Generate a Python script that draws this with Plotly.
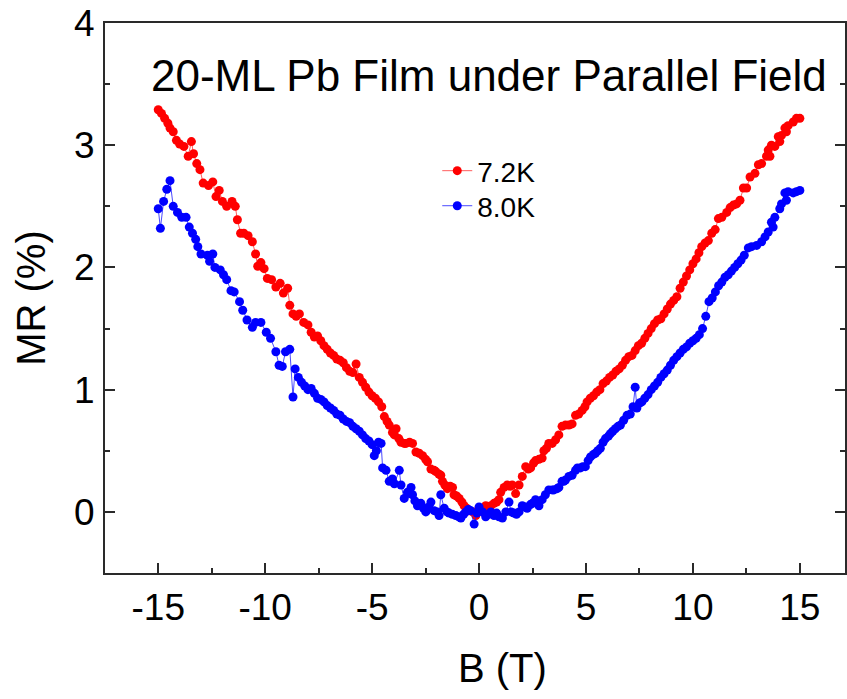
import plotly.graph_objects as go

# ---- data: 7.2K ----
b_72 = [-15.0, -14.85, -14.7, -14.55, -14.45, -14.3, -14.15, -14.0, -13.8, -13.6, -13.45, -13.35, -13.2, -13.05,
        -12.9, -12.65, -12.45, -12.3, -12.15, -12.0, -11.8, -11.55, -11.4, -11.3, -11.15, -11.0, -10.8, -10.6,
        -10.45, -10.35, -10.2, -10.05, -9.9, -9.7, -9.5, -9.3, -9.15, -8.95, -8.85, -8.7, -8.55, -8.4, -8.2,
        -8.0, -7.85, -7.7, -7.55, -7.4, -7.25, -7.1, -6.95, -6.8, -6.65, -6.5, -6.35, -6.2, -6.05, -5.9, -5.75,
        -5.6, -5.45, -5.3, -5.15, -5.0, -4.85, -4.7, -4.55, -4.43, -4.3, -4.2, -4.05, -3.96, -3.88, -3.75,
        -3.65, -3.5, -3.42, -3.25, -3.11, -2.95, -2.8, -2.64, -2.5, -2.41, -2.25, -2.1, -2.02, -1.88, -1.79,
        -1.71, -1.6, -1.48, -1.35, -1.24, -1.17, -1.05, -0.93, -0.8, -0.7, -0.58, -0.47, -0.3, -0.15, 0.0,
        0.15, 0.31, 0.45, 0.55, 0.7, 0.82, 0.93, 1.01, 1.17, 1.32, 1.45, 1.55, 1.71, 1.87, 2.02, 2.18, 2.3,
        2.41, 2.55, 2.64, 2.8, 2.95, 3.03, 3.15, 3.26, 3.42, 3.58, 3.73, 3.88, 4.04, 4.2, 4.35, 4.51, 4.66,
        4.82, 4.95, 5.05, 5.2, 5.35, 5.5, 5.65, 5.8, 5.95, 6.1, 6.25, 6.4, 6.55, 6.7, 6.85, 7.0, 7.15, 7.3,
        7.45, 7.6, 7.75, 7.9, 8.05, 8.2, 8.35, 8.5, 8.65, 8.8, 8.95, 9.1, 9.25, 9.4, 9.55, 9.7, 9.85, 10.0,
        10.15, 10.28, 10.41, 10.57, 10.72, 10.88, 11.04, 11.19, 11.35, 11.58, 11.74, 11.89, 12.04, 12.2,
        12.36, 12.51, 12.67, 12.9, 13.06, 13.21, 13.44, 13.52, 13.6, 13.67, 13.83, 13.99, 14.06, 14.14, 14.3,
        14.37, 14.45, 14.69, 14.84, 15.0]
mr_72 = [3.29, 3.26, 3.22, 3.18, 3.14, 3.11, 3.04, 3.01, 2.99, 2.91, 3.03, 2.93, 2.85, 2.80,
         2.69, 2.67, 2.70, 2.58, 2.63, 2.54, 2.50, 2.54, 2.50, 2.39, 2.28, 2.28, 2.26, 2.21,
         2.11, 2.01, 2.04, 1.99, 1.91, 1.90, 1.84, 1.87, 1.79, 1.83, 1.69, 1.62, 1.60, 1.62, 1.55,
         1.53, 1.47, 1.43, 1.44, 1.40, 1.36, 1.33, 1.30, 1.28, 1.25, 1.24, 1.22, 1.18, 1.15, 1.14, 1.21,
         1.10, 1.06, 1.02, 0.98, 0.95, 0.93, 0.90, 0.86, 0.78, 0.74, 0.71, 0.65, 0.63, 0.68, 0.60,
         0.57, 0.56, 0.56, 0.57, 0.56, 0.49, 0.48, 0.46, 0.43, 0.41, 0.35, 0.34, 0.33, 0.31, 0.30,
         0.25, 0.22, 0.19, 0.21, 0.20, 0.14, 0.13, 0.11, 0.08, 0.05, 0.03, 0.01, 0.00, -0.03, 0.03,
         0.02, 0.05, 0.04, 0.05, 0.07, 0.08, 0.10, 0.16, 0.20, 0.22, 0.21, 0.22, 0.15, 0.22, 0.29, 0.37, 0.35,
         0.36, 0.40, 0.42, 0.43, 0.44, 0.50, 0.52, 0.56, 0.56, 0.59, 0.63, 0.70, 0.71, 0.71, 0.72, 0.79, 0.80,
         0.83, 0.86, 0.90, 0.93, 0.95, 0.98, 1.00, 1.05, 1.07, 1.10, 1.12, 1.15, 1.17, 1.20, 1.24, 1.27, 1.28, 1.32,
         1.36, 1.38, 1.42, 1.46, 1.50, 1.54, 1.57, 1.58, 1.62, 1.66, 1.70, 1.73, 1.76, 1.83, 1.88, 1.93, 1.98, 2.03,
         2.07, 2.12, 2.17, 2.20, 2.22, 2.28, 2.31, 2.40, 2.41, 2.45, 2.49, 2.51, 2.52, 2.55,
         2.65, 2.65, 2.74, 2.77, 2.84, 2.85, 2.91, 2.96, 2.91, 3.00, 2.99, 3.07, 3.03, 3.08, 3.14,
         3.11, 3.16, 3.19, 3.22, 3.22]

# ---- data: 8.0K ----
b_80 = [-15.0, -14.9, -14.75, -14.6, -14.45, -14.3, -14.1, -13.9, -13.7, -13.55, -13.4, -13.25, -13.15, -13.0,
        -12.7, -12.6, -12.45, -12.35, -12.1, -11.95, -11.8, -11.6, -11.45, -11.2, -11.05, -10.85, -10.6, -10.45,
        -10.2, -9.95, -9.75, -9.5, -9.35, -9.2, -9.05, -8.85, -8.7, -8.6, -8.45, -8.3, -8.15, -8.0, -7.85, -7.7,
        -7.55, -7.4, -7.25, -7.1, -6.95, -6.8, -6.65, -6.5, -6.35, -6.2, -6.05, -5.9, -5.75, -5.6, -5.45, -5.3,
        -5.15, -5.0, -4.9, -4.8, -4.7, -4.58, -4.51, -4.35, -4.2, -4.05, -3.96, -3.73, -3.65, -3.5, -3.35, -3.26,
        -3.18, -3.11, -3.0, -2.88, -2.72, -2.6, -2.49, -2.35, -2.25, -2.1, -1.95, -1.87, -1.79, -1.63, -1.5, -1.4,
        -1.25, -1.09, -0.95, -0.85, -0.72, -0.62, -0.5, -0.39, -0.23, -0.1, 0.0, 0.16, 0.31, 0.45, 0.55, 0.7,
        0.82, 0.93, 1.09, 1.25, 1.4, 1.5, 1.63, 1.75, 1.87, 2.02, 2.15, 2.25, 2.4, 2.49, 2.64, 2.8, 2.95, 3.1,
        3.26, 3.42, 3.5, 3.65, 3.73, 3.88, 3.96, 4.04, 4.2, 4.35, 4.51, 4.6, 4.74, 4.85, 4.97, 5.1, 5.21, 5.35,
        5.44, 5.55, 5.67, 5.8, 5.91, 6.05, 6.14, 6.25, 6.37, 6.5, 6.61, 6.76, 6.92, 7.07, 7.2, 7.3, 7.38, 7.5,
        7.61, 7.75, 7.9, 8.05, 8.2, 8.35, 8.5, 8.65, 8.8, 8.95, 9.1, 9.25, 9.4, 9.55, 9.7, 9.85, 10.0, 10.15,
        10.3, 10.45, 10.6, 10.75, 10.9, 11.05, 11.2, 11.35, 11.5, 11.65, 11.8, 11.95, 12.1, 12.25, 12.4, 12.59,
        12.74, 12.98, 13.21, 13.37, 13.52, 13.67, 13.75, 13.83, 14.06, 14.14, 14.3, 14.37, 14.45, 14.69, 14.84,
        15.0]
mr_80 = [2.48, 2.32, 2.54, 2.64, 2.71, 2.50, 2.45, 2.41, 2.41, 2.33, 2.28, 2.23, 2.17, 2.11,
         2.10, 2.05, 2.11, 2.00, 1.98, 1.94, 1.90, 1.81, 1.80, 1.72, 1.65, 1.57, 1.51, 1.55,
         1.55, 1.47, 1.42, 1.31, 1.20, 1.19, 1.31, 1.33, 0.94, 1.17, 1.10, 1.06, 1.03, 1.00, 1.01, 0.97,
         0.93, 0.92, 0.90, 0.87, 0.85, 0.83, 0.80, 0.79, 0.76, 0.74, 0.73, 0.70, 0.68, 0.66, 0.63, 0.60,
         0.58, 0.55, 0.46, 0.50, 0.57, 0.56, 0.36, 0.34, 0.25, 0.27, 0.23, 0.34, 0.22, 0.11, 0.16, 0.15,
         0.20, 0.14, 0.09, 0.05, 0.07, 0.03, 0.00, 0.04, 0.08, 0.01, 0.00, -0.03, 0.14, 0.03, 0.00, -0.01,
         -0.02, -0.03, -0.04, -0.05, -0.02, 0.00, 0.02, 0.01, -0.10, -0.01, 0.04, 0.00, -0.04, -0.02, 0.00, -0.03,
         -0.01, -0.04, -0.05, 0.00, 0.08, 0.00, -0.01, -0.02, 0.00, 0.05, 0.04, 0.03, 0.06, 0.07, 0.10, 0.05, 0.10, 0.14,
         0.18, 0.18, 0.18, 0.19, 0.20, 0.25, 0.25, 0.26, 0.29, 0.30, 0.34, 0.36, 0.36, 0.37, 0.37, 0.42, 0.45, 0.47,
         0.48, 0.50, 0.52, 0.57, 0.60, 0.62, 0.64, 0.66, 0.68, 0.70, 0.71, 0.75, 0.79, 0.80, 0.86, 1.02, 0.85, 0.89,
         0.90, 0.93, 0.96, 1.00, 1.03, 1.06, 1.10, 1.13, 1.16, 1.20, 1.24, 1.27, 1.30, 1.33, 1.35, 1.38, 1.40, 1.42,
         1.45, 1.50, 1.60, 1.72, 1.75, 1.80, 1.85, 1.88, 1.92, 1.94, 1.97, 2.00, 2.03, 2.06, 2.10, 2.16,
         2.17, 2.18, 2.21, 2.25, 2.29, 2.37, 2.33, 2.41, 2.48, 2.52, 2.61, 2.55, 2.62, 2.61, 2.62,
         2.63]

series_names = ["7.2K", "8.0K"]
title_text = "20-ML Pb Film under Parallel Field"
x_title = "B (T)"
y_title = "MR (%)"
x_ticks = [-15, -10, -5, 0, 5, 10, 15]
x_ticklabels = ["-15", "-10", "-5", "0", "5", "10", "15"]
y_ticks = [0, 1, 2, 3, 4]
y_ticklabels = ["0", "1", "2", "3", "4"]

FONT = "Liberation Sans, Arial, sans-serif"
AX = "#2a2a2a"

fig = go.Figure()
fig.add_trace(go.Scatter(x=b_72, y=mr_72, name=series_names[0], mode="lines+markers",
                         line=dict(color="rgba(255,40,40,0.75)", width=1),
                         marker=dict(color="#ff0000", size=9), legend="legend"))
fig.add_trace(go.Scatter(x=b_80, y=mr_80, name=series_names[1], mode="lines+markers",
                         line=dict(color="rgba(30,30,255,0.8)", width=1),
                         marker=dict(color="#0000ff", size=9), legend="legend2"))

axis_common = dict(showgrid=False, zeroline=False, showline=True, linecolor=AX, linewidth=2,
                   ticks="inside", ticklen=10, tickwidth=2, tickcolor=AX,
                   tickfont=dict(family=FONT, size=37, color="#000"))
fig.update_xaxes(range=[-17.49, 17.11], tickvals=x_ticks, ticktext=x_ticklabels, mirror=True,
                 minor=dict(dtick=2.5, tick0=0, ticks="inside", ticklen=5, tickwidth=2, tickcolor=AX),
                 ticklabelstandoff=1, **axis_common)
fig.update_yaxes(range=[-0.5, 4.0], tickvals=y_ticks, ticktext=y_ticklabels, mirror="ticks",
                 minor=dict(dtick=0.5, tick0=0, ticks="inside", ticklen=5, tickwidth=2, tickcolor=AX),
                 ticklabelstandoff=1, **axis_common)

fig.add_annotation(text=title_text, xref="paper", yref="paper", x=0.519, y=0.905,
                   xanchor="center", yanchor="middle",
                   showarrow=False, font=dict(family=FONT, size=44, color="#000"))
fig.add_annotation(text=x_title, xref="paper", yref="paper", x=0.537, y=-0.173,
                   xanchor="center", yanchor="middle",
                   showarrow=False, font=dict(family=FONT, size=40, color="#000"))
fig.add_annotation(text=y_title, xref="paper", yref="paper", x=-0.1003, y=0.5, textangle=-90,
                   xanchor="center", yanchor="middle",
                   showarrow=False, font=dict(family=FONT, size=40, color="#000"))

leg_common = dict(xanchor="left", yanchor="top", bgcolor="rgba(0,0,0,0)",
                  font=dict(family=FONT, size=28, color="#000"), itemwidth=30)
fig.update_layout(
    width=847, height=699,
    margin=dict(l=104.5, r=0, t=23, b=126),
    paper_bgcolor="white", plot_bgcolor="white",
    showlegend=True,
    legend=dict(x=0.449, y=0.7764, **leg_common),
    legend2=dict(x=0.449, y=0.7127, **leg_common),
)

fig.write_html("out.html")
